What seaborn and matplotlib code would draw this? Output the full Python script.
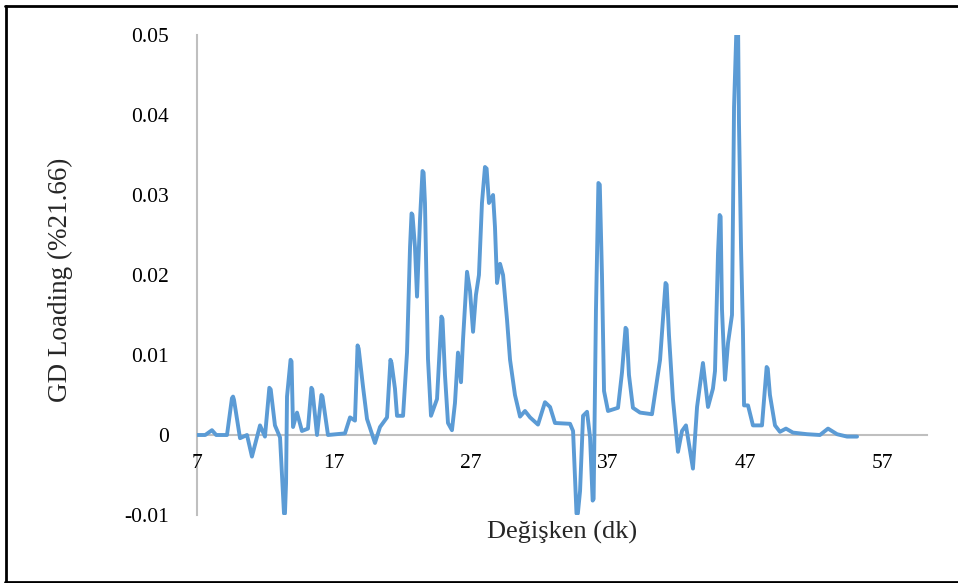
import numpy as np
import pandas as pd
import seaborn as sns
import matplotlib
matplotlib.use("Agg")
import matplotlib.pyplot as plt
from matplotlib.lines import Line2D

# ---- data ----
retention_min = [
    7.00, 7.60, 8.09, 8.40, 9.19, 9.55, 9.63, 9.70, 10.14, 10.65, 11.01, 11.60,
    11.96, 12.28, 12.38, 12.69, 13.06, 13.35, 13.42, 13.50, 13.57, 13.83, 13.90,
    14.01, 14.30, 14.66, 15.10, 15.35, 15.42, 15.76, 16.08, 16.16, 16.56, 17.80,
    18.17, 18.53, 18.72, 18.80, 19.12, 19.41, 19.99, 20.36, 20.87, 21.12, 21.20,
    21.45, 21.60, 22.04, 22.33, 22.55, 22.66, 22.73, 22.91, 23.06, 23.28, 23.46,
    23.54, 23.64, 23.79, 23.86, 24.08, 24.52, 24.84, 24.92, 25.10, 25.32, 25.61,
    25.83, 26.05, 26.27, 26.42, 26.71, 26.93, 27.15, 27.36, 27.58, 27.80, 28.02,
    28.14, 28.31, 28.61, 28.75, 28.90, 29.12, 29.34, 29.63, 29.85, 30.21, 30.58,
    30.94, 31.31, 31.89, 32.40, 32.77, 33.13, 34.23, 34.45, 34.70, 34.80, 34.96,
    35.18, 35.47, 35.69, 35.88, 35.95, 36.12, 36.30, 36.40, 36.56, 36.71, 37.00,
    37.73, 38.02, 38.28, 38.36, 38.53, 38.82, 39.34, 40.21, 40.80, 41.20, 41.28,
    41.45, 41.74, 42.11, 42.40, 42.69, 42.99, 43.20, 43.50, 43.93, 44.30, 44.66,
    44.81, 45.03, 45.15, 45.22, 45.32, 45.54, 45.76, 46.05, 46.20, 46.36, 46.50,
    46.56, 46.71, 46.85, 46.93, 47.22, 47.58, 48.24, 48.58, 48.66, 48.82, 49.19,
    49.55, 49.99, 50.50, 51.53, 52.47, 53.06, 53.72, 54.45, 55.18,
]
gd_loading = [
    0.0000, 0.0000, 0.0006, 0.0000, 0.0000, 0.0046, 0.0048, 0.0044, -0.0004,
    0.0000, -0.0027, 0.0012, -0.0002, 0.0059, 0.0057, 0.0012, -0.0003, -0.0098,
    -0.0098, -0.0060, 0.0048, 0.0094, 0.0092, 0.0010, 0.0028, 0.0005, 0.0008,
    0.0059, 0.0057, 0.0000, 0.0050, 0.0048, 0.0000, 0.0002, 0.0022, 0.0018,
    0.0112, 0.0108, 0.0060, 0.0020, -0.0010, 0.0010, 0.0022, 0.0094, 0.0090,
    0.0058, 0.0024, 0.0024, 0.0103, 0.0235, 0.0277, 0.0275, 0.0235, 0.0173,
    0.0270, 0.0330, 0.0328, 0.0290, 0.0156, 0.0095, 0.0024, 0.0045, 0.0148,
    0.0145, 0.0075, 0.0015, 0.0006, 0.0040, 0.0103, 0.0066, 0.0120, 0.0204,
    0.0180, 0.0129, 0.0175, 0.0200, 0.0290, 0.0335, 0.0333, 0.0290, 0.0300,
    0.0260, 0.0190, 0.0214, 0.0200, 0.0144, 0.0094, 0.0050, 0.0023, 0.0030,
    0.0022, 0.0013, 0.0041, 0.0035, 0.0015, 0.0014, 0.0005, -0.0098, -0.0098,
    -0.0070, 0.0024, 0.0029, -0.0003, -0.0082, -0.0080, 0.0155, 0.0315,
    0.0313, 0.0200, 0.0055, 0.0030, 0.0034, 0.0078, 0.0134, 0.0132, 0.0075,
    0.0034, 0.0028, 0.0026, 0.0094, 0.0190, 0.0188, 0.0125, 0.0045, -0.0021,
    0.0005, 0.0012, -0.0020, -0.0042, 0.0035, 0.0090, 0.0035, 0.0058, 0.0080,
    0.0227, 0.0275, 0.0273, 0.0157, 0.0069, 0.0115, 0.0150, 0.0410, 0.0500,
    0.0500, 0.0390, 0.0235, 0.0130, 0.0037, 0.0037, 0.0012, 0.0012, 0.0085,
    0.0083, 0.0050, 0.0012, 0.0004, 0.0008, 0.0003, 0.0001, 0.0000, 0.0008,
    0.0001, -0.0002, -0.0002,
]
x_ticks = [7, 17, 27, 37, 47, 57]
y_ticks = [-0.01, 0, 0.01, 0.02, 0.03, 0.04, 0.05]
y_tick_labels = ["-0.01", "0", "0.01", "0.02", "0.03", "0.04", "0.05"]
x_label = "Değişken (dk)"
y_label = "GD Loading (%21.66)"

df = pd.DataFrame({"t": retention_min, "v": gd_loading})

sns.set_style("white")
plt.rcParams["font.family"] = ["Liberation Serif", "DejaVu Serif"]

fig = plt.figure(figsize=(9.58, 5.83), dpi=100)
ax = fig.add_axes([197 / 958, 1 - 515 / 583, (927 - 197) / 958, (515 - 35) / 583])

sns.lineplot(data=df, x="t", y="v", ax=ax, color="#5B9BD5", linewidth=2.8,
             estimator=None, sort=False)
for l in ax.get_lines():
    l.set_solid_joinstyle("round")
    l.set_solid_capstyle("round")

ax.set_xlim(7, 7 + 730 / 13.7)
ax.set_ylim(-0.01, 0.05)
ax.set_xticks(x_ticks)
ax.set_xticklabels([str(t) for t in x_ticks])
ax.set_yticks(y_ticks)
ax.set_yticklabels(y_tick_labels)

for s in ["top", "right"]:
    ax.spines[s].set_visible(False)
ax.spines["left"].set_color("#BFBFBF")
ax.spines["left"].set_linewidth(1.5)
ax.spines["bottom"].set_color("#BFBFBF")
ax.spines["bottom"].set_linewidth(1.5)
ax.spines["bottom"].set_position(("data", 0))
ax.spines["left"].set_zorder(0)
ax.spines["bottom"].set_zorder(0)

ax.tick_params(axis="both", length=0, labelsize=15.5, colors="black")
ax.tick_params(axis="y", pad=20)
ax.tick_params(axis="x", pad=14)

ax.set_xlabel(x_label, fontsize=19)
ax.set_ylabel(y_label, fontsize=19.5)
ax.xaxis.set_label_coords(0.5, -0.012)
ax.yaxis.set_label_coords((73 - 197) / 730, 0.49)

# figure border
border_kw = dict(transform=fig.transFigure, color="black", linewidth=2)
fig.add_artist(Line2D([5.5 / 958, 5.5 / 958], [1 - 6 / 583, 1 - 582 / 583], **border_kw))
fig.add_artist(Line2D([4.5 / 958, 1.0], [1 - 6 / 583, 1 - 6 / 583], **border_kw))
fig.add_artist(Line2D([4.5 / 958, 1.0], [1 - 582 / 583, 1 - 582 / 583], **border_kw))

fig.savefig("out.png", dpi=100)
